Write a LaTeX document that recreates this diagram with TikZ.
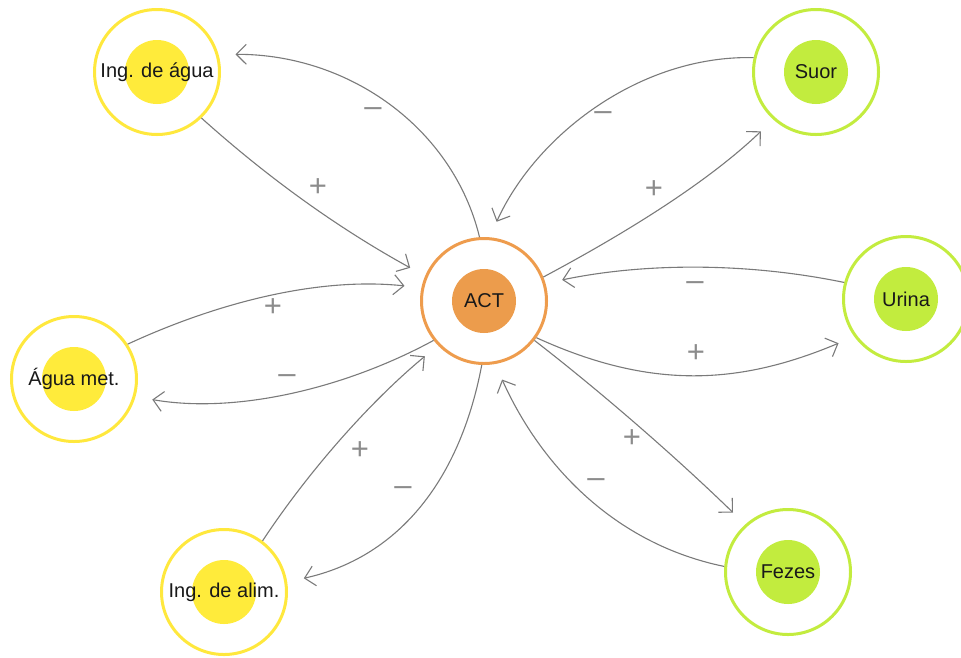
\documentclass[tikz,border=0pt]{standalone}
\usepackage{fontspec}
\setmainfont{Liberation Sans}
\usetikzlibrary{arrows.meta}

\definecolor{ringyellow}{HTML}{FFE83D}
\definecolor{coreyellow}{HTML}{FFEB3B}
\definecolor{ringgreen}{HTML}{C3EC3F}
\definecolor{coregreen}{HTML}{C2EC3E}
\definecolor{ringorange}{HTML}{EE9C4D}
\definecolor{coreorange}{HTML}{EC9C4C}
\definecolor{linkgray}{HTML}{7A7A7A}
\definecolor{signgray}{HTML}{8C8C8C}

\tikzset{
  ring/.style 2 args={circle, draw=#1, line width=3pt, fill=white,
    minimum size=125pt, inner sep=0pt, outer sep=1.5pt,
    font=\fontsize{20}{24}\selectfont, text=black!90,
    path picture={\fill[#2] (path picture bounding box.center) circle (32pt);}},
  link/.style={draw=linkgray, line width=1.1pt,
    -{Straight Barb[length=10pt,width=20pt]}, shorten >=17pt},
  sign/.style={text=signgray, font=\fontsize{31}{31}\selectfont, inner sep=0pt},
}

\begin{document}
\begin{tikzpicture}[x=1pt,y=-1pt]
\useasboundingbox (0,0) rectangle (961,657);

% stocks and flows
\node[ring={ringorange}{coreorange}] (act)     at (484,301) {ACT};
\node[ring={ringyellow}{coreyellow}] (ingagua) at (157,72)  {Ing. de água};
\node[ring={ringyellow}{coreyellow}] (aguamet) at (74,379)  {Água met.};
\node[ring={ringyellow}{coreyellow}] (ingalim) at (224,592) {Ing. de alim.};
\node[ring={ringgreen}{coregreen}]   (suor)    at (816,72)  {Suor};
\node[ring={ringgreen}{coregreen}]   (urina)   at (906,299) {Urina};
\node[ring={ringgreen}{coregreen}]   (fezes)   at (788,572) {Fezes};

% water intake
\draw[link] (ingagua.-46) .. controls (266,176) and (336,227) .. (act.157);
\draw[link] (act.94) .. controls (453,128) and (349,54) .. (ingagua.16);
\node[sign] (s1) at (318,188) {+};
\node[sign] (s2) at (373,112) {–};

% metabolic water
\draw[link] (aguamet.33) .. controls (221,301) and (321,277) .. (act.168);
\draw[link] (act.218) .. controls (344,389) and (235,414) .. (aguamet.-16);
\node[sign] (s3) at (273,308) {+};
\node[sign] (s4) at (287,379) {–};

% food intake
\draw[link] (ingalim.53) .. controls (310,469) and (372,400) .. (act.224);
\draw[link] (act.-92) .. controls (459,485) and (395,558) .. (ingalim.9);
\node[sign] (s5) at (360,451) {+};
\node[sign] (s6) at (403,491) {–};

% sweat
\draw[link] (suor.167) .. controls (640,55) and (536,135) .. (act.85);
\draw[link] (act.22) .. controls (624,234) and (707,183) .. (suor.228);
\node[sign] (s7) at (603,116) {–};
\node[sign] (s8) at (654,190) {+};

% urine
\draw[link] (urina.165) .. controls (745,262) and (643,263) .. (act.16);
\draw[link] (act.-35) .. controls (651,390) and (739,385) .. (urina.216);
\node[sign] (s9)  at (695,286) {–};
\node[sign] (s10) at (696,354) {+};

% faeces
\draw[link] (act.-38) .. controls (605,395) and (680,461) .. (fezes.132);
\draw[link] (fezes.175) .. controls (615,544) and (541,466) .. (act.-80);
\node[sign] (s11) at (632,439) {+};
\node[sign] (s12) at (596,483) {–};
\end{tikzpicture}
\end{document}
